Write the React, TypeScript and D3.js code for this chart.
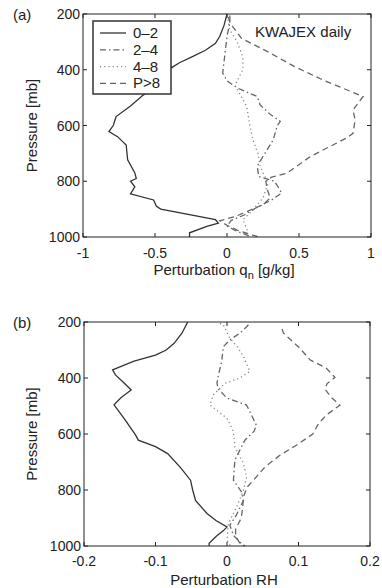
import React, { useEffect, useRef } from 'react';
import * as d3 from 'd3';

// [pressure mb, value]
const qn02 = [[200, 0], [240, -0.02], [280, -0.05], [305, -0.08], [330, -0.15], [353, -0.24], [375, -0.33], [394, -0.39], [448, -0.45], [490, -0.58], [530, -0.67], [568, -0.77], [600, -0.79], [622, -0.82], [640, -0.76], [670, -0.7], [723, -0.69], [770, -0.64], [790, -0.63], [800, -0.67], [820, -0.64], [845, -0.67], [867, -0.51], [890, -0.49], [900, -0.46], [938, -0.08], [950, -0.06], [962, -0.14], [985, -0.26], [1000, -0.26]];
const qn24 = [[205, 0.02], [232, 0.02], [280, 0], [325, -0.01], [412, -0.03], [440, 0.0], [465, 0.07], [496, 0.21], [526, 0.23], [560, 0.3], [585, 0.37], [600, 0.35], [652, 0.32], [711, 0.25], [746, 0.21], [783, 0.22], [800, 0.33], [842, 0.38], [867, 0.31], [896, 0.2], [921, 0.12], [940, 0.03], [960, 0.0], [975, 0.05], [1000, 0.17]];
const qn48 = [[205, 0.0], [257, 0.02], [300, 0.07], [353, 0.11], [400, 0.11], [455, 0.055], [532, 0.137], [604, 0.16], [652, 0.18], [700, 0.215], [747, 0.23], [806, 0.285], [860, 0.25], [914, 0.16], [938, 0.11], [974, 0.14], [1000, 0.12]];
const qnP8 = [[210, 0.01], [232, 0.02], [287, 0.1], [340, 0.3], [389, 0.47], [440, 0.68], [496, 0.945], [544, 0.875], [580, 0.89], [628, 0.875], [645, 0.83], [711, 0.58], [771, 0.415], [785, 0.31], [800, 0.27], [830, 0.28], [860, 0.3], [884, 0.25], [926, 0.06], [942, -0.05], [958, 0.0], [975, 0.07], [1000, 0.22]];

const rh02 = [[200, -0.055], [240, -0.063], [276, -0.074], [300, -0.085], [318, -0.1], [340, -0.13], [371, -0.16], [389, -0.156], [415, -0.145], [443, -0.134], [470, -0.148], [496, -0.158], [544, -0.144], [603, -0.128], [622, -0.124], [645, -0.1], [670, -0.083], [720, -0.065], [765, -0.051], [800, -0.048], [837, -0.044], [884, -0.028], [910, -0.015], [932, 0.0], [945, -0.005], [965, -0.015], [990, -0.025], [1000, -0.025]];
const rh24 = [[210, 0.03], [217, 0.0275], [240, 0.018], [264, 0.004], [288, -0.005], [342, -0.0075], [390, -0.012], [419, -0.014], [440, -0.012], [472, 0], [496, 0.027], [510, 0.03], [568, 0.041], [590, 0.038], [622, 0.025], [693, 0.011], [765, 0.009], [806, 0.02], [837, 0.023], [890, 0.013], [926, 0.004], [962, 0.009], [991, 0.02], [1000, 0.025]];
const rh48 = [[205, -0.01], [211, -0.005], [258, 0.004], [290, 0.015], [323, 0.023], [377, 0.032], [400, 0.018], [419, -0.003], [460, -0.019], [496, -0.024], [520, -0.012], [544, 0], [591, 0.009], [646, 0.011], [706, 0.023], [754, 0.0275], [801, 0.023], [861, 0.0135], [920, 0.002], [950, 0.001], [980, 0], [1000, 0.005]];
const rhP8 = [[225, 0.077], [240, 0.079], [294, 0.102], [335, 0.116], [365, 0.139], [398, 0.151], [420, 0.14], [440, 0.137], [470, 0.146], [497, 0.158], [530, 0.14], [563, 0.128], [600, 0.12], [640, 0.097], [676, 0.074], [718, 0.053], [765, 0.037], [790, 0.028], [825, 0.023], [860, 0.022], [900, 0.02], [940, 0.012], [965, 0.012], [990, 0.018], [1000, 0.025]];

const seriesLabels = ['0–2', '2–4', '4–8', 'P>8'];
const pressureTicks = [200, 400, 600, 800, 1000];
const qnTicks = [-1, -0.5, 0, 0.5, 1];
const rhTicks = [-0.2, -0.1, 0, 0.1, 0.2];

const styles = [
  { stroke: '#333', dash: null },
  { stroke: '#666', dash: '6,3,1.5,3' },
  { stroke: '#888', dash: '1.2,3' },
  { stroke: '#666', dash: '6,4' },
];

const FONT = '"Liberation Sans", Arial, sans-serif';

function drawPanel(svg, opts) {
  const { left, right, top, bottom, xDomain, xTicks, series, tag, xLabel, tickY, labelY } = opts;
  const x = d3.scaleLinear().domain(xDomain).range([left, right]);
  const y = d3.scaleLinear().domain([200, 1000]).range([top, bottom]);
  const g = svg.append('g');

  const line = d3.line().x(d => x(d[1])).y(d => y(d[0]));
  series.forEach((s, i) => {
    g.append('path')
      .attr('d', line(s))
      .attr('fill', 'none')
      .attr('stroke', styles[i].stroke)
      .attr('stroke-width', 1.3)
      .attr('stroke-dasharray', styles[i].dash);
  });

  // box
  g.append('rect')
    .attr('x', left).attr('y', top)
    .attr('width', right - left).attr('height', bottom - top)
    .attr('fill', 'none').attr('stroke', '#222').attr('stroke-width', 1);

  const tl = 4;
  xTicks.forEach(t => {
    g.append('line').attr('x1', x(t)).attr('x2', x(t)).attr('y1', bottom).attr('y2', bottom - tl).attr('stroke', '#222');
    g.append('line').attr('x1', x(t)).attr('x2', x(t)).attr('y1', top).attr('y2', top + tl).attr('stroke', '#222');
    g.append('text')
      .attr('x', x(t)).attr('y', tickY)
      .attr('text-anchor', 'middle')
      .attr('font-family', FONT).attr('font-size', 14).attr('fill', '#222')
      .text(String(t));
  });
  pressureTicks.forEach(t => {
    g.append('line').attr('x1', left).attr('x2', left + tl).attr('y1', y(t)).attr('y2', y(t)).attr('stroke', '#222');
    g.append('line').attr('x1', right).attr('x2', right - tl).attr('y1', y(t)).attr('y2', y(t)).attr('stroke', '#222');
    g.append('text')
      .attr('x', left - 3).attr('y', y(t) + 5)
      .attr('text-anchor', 'end')
      .attr('font-family', FONT).attr('font-size', 14).attr('fill', '#222')
      .text(String(t));
  });

  g.append('text')
    .attr('transform', `translate(37,${(top + bottom) / 2}) rotate(-90)`)
    .attr('text-anchor', 'middle')
    .attr('font-family', FONT).attr('font-size', 15).attr('fill', '#222')
    .text('Pressure [mb]');

  g.append('text')
    .attr('x', 13).attr('y', top + 6)
    .attr('font-family', FONT).attr('font-size', 15).attr('fill', '#222')
    .text(tag);

  const xl = g.append('text')
    .attr('x', (left + right) / 2 - 3).attr('y', labelY)
    .attr('text-anchor', 'middle')
    .attr('font-family', FONT).attr('font-size', 15).attr('fill', '#222');
  xLabel(xl);
}

export default function App() {
  const svgRef = useRef(null);

  useEffect(() => {
    const svg = d3.select(svgRef.current);
    svg.selectAll('*').remove();

    drawPanel(svg, {
      left: 83, right: 371, top: 14, bottom: 237,
      xDomain: [-1, 1], xTicks: qnTicks, tickY: 258, labelY: 275,
      series: [qn02, qn24, qn48, qnP8], tag: '(a)',
      xLabel: t => {
        t.append('tspan').text('Perturbation q');
        t.append('tspan').attr('font-size', 11).attr('dy', 4).text('n');
        t.append('tspan').attr('dy', -4).text(' [g/kg]');
      },
    });

    drawPanel(svg, {
      left: 84, right: 370, top: 322, bottom: 546,
      xDomain: [-0.2, 0.2], xTicks: rhTicks, tickY: 566, labelY: 585,
      series: [rh02, rh24, rh48, rhP8], tag: '(b)',
      xLabel: t => t.text('Perturbation RH'),
    });

    // legend
    const lg = svg.append('g');
    lg.append('rect')
      .attr('x', 93).attr('y', 21).attr('width', 78).attr('height', 73)
      .attr('fill', 'white').attr('stroke', '#333').attr('stroke-width', 1.5);
    seriesLabels.forEach((lab, i) => {
      const yy = 33 + i * 16.8;
      lg.append('line')
        .attr('x1', 100).attr('x2', 126).attr('y1', yy).attr('y2', yy)
        .attr('stroke', styles[i].stroke).attr('stroke-width', 1.3)
        .attr('stroke-dasharray', styles[i].dash);
      lg.append('text')
        .attr('x', 133).attr('y', yy + 5)
        .attr('font-family', FONT).attr('font-size', 15).attr('fill', '#222')
        .text(lab);
    });

    svg.append('text')
      .attr('x', 255).attr('y', 37)
      .attr('font-family', FONT).attr('font-size', 15).attr('fill', '#222')
      .text('KWAJEX daily');
  }, []);

  return (
    <svg
      ref={svgRef}
      width={382}
      height={588}
      style={{ position: 'absolute', left: 0, top: 0, background: 'white', display: 'block' }}
    />
  );
}
